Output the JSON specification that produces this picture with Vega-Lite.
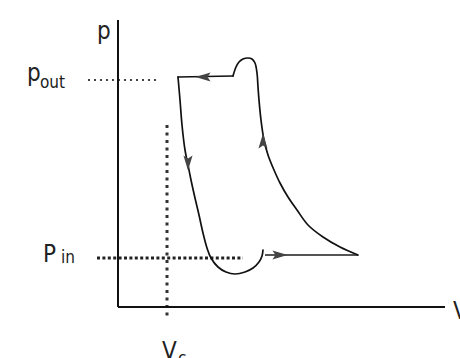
{
  "$schema": "https://vega.github.io/schema/vega-lite/v6.json",
  "width": 460,
  "height": 358,
  "autosize": {"type": "none"},
  "padding": 0,
  "background": "white",
  "config": {"view": {"stroke": null}},
  "datasets": {
    "axes": [
      {"V": 0, "p": 0, "V2": 0, "p2": 287},
      {"V": 0, "p": 0, "V2": 327, "p2": 0}
    ],
    "dottedOut": [
      {"V": -30, "p": 227, "V2": 42, "p2": 227}
    ],
    "dottedIn": [
      {"V": -21, "p": 49, "V2": 125, "p2": 49}
    ],
    "dottedVc": [
      {"V": 49, "p": 182, "V2": 49, "p2": -13}
    ],
    "suction": [
      {"V": 147, "p": 52, "V2": 240, "p2": 52}
    ],
    "curve": [
      {"seg": "a", "o": 1, "V": 240, "p": 52},
      {"seg": "a", "o": 2, "V": 222, "p": 60},
      {"seg": "a", "o": 3, "V": 205, "p": 70},
      {"seg": "a", "o": 4, "V": 190, "p": 82},
      {"seg": "a", "o": 5, "V": 179, "p": 97},
      {"seg": "a", "o": 6, "V": 170, "p": 110},
      {"seg": "a", "o": 7, "V": 162, "p": 124},
      {"seg": "a", "o": 8, "V": 156, "p": 137},
      {"seg": "a", "o": 9, "V": 150, "p": 152},
      {"seg": "a", "o": 10, "V": 146, "p": 167},
      {"seg": "a", "o": 11, "V": 143, "p": 187},
      {"seg": "a", "o": 12, "V": 141, "p": 207},
      {"seg": "a", "o": 13, "V": 140, "p": 220},
      {"seg": "a", "o": 14, "V": 139, "p": 234},
      {"seg": "a", "o": 15, "V": 137, "p": 244},
      {"seg": "a", "o": 16, "V": 134, "p": 248},
      {"seg": "a", "o": 17, "V": 130, "p": 249},
      {"seg": "a", "o": 18, "V": 125, "p": 248},
      {"seg": "a", "o": 19, "V": 121, "p": 245},
      {"seg": "a", "o": 20, "V": 118, "p": 240},
      {"seg": "a", "o": 21, "V": 115, "p": 231},
      {"seg": "b", "o": 1, "V": 115, "p": 231},
      {"seg": "b", "o": 2, "V": 60, "p": 230},
      {"seg": "c", "o": 1, "V": 60, "p": 230},
      {"seg": "c", "o": 2, "V": 62, "p": 207},
      {"seg": "c", "o": 3, "V": 64, "p": 182},
      {"seg": "c", "o": 4, "V": 67, "p": 157},
      {"seg": "c", "o": 5, "V": 70, "p": 142},
      {"seg": "c", "o": 6, "V": 73, "p": 127},
      {"seg": "c", "o": 7, "V": 77, "p": 109},
      {"seg": "c", "o": 8, "V": 81, "p": 92},
      {"seg": "c", "o": 9, "V": 85, "p": 74},
      {"seg": "c", "o": 10, "V": 89, "p": 59},
      {"seg": "c", "o": 11, "V": 93, "p": 49},
      {"seg": "c", "o": 12, "V": 100, "p": 40},
      {"seg": "c", "o": 13, "V": 108, "p": 35},
      {"seg": "c", "o": 14, "V": 117, "p": 33},
      {"seg": "c", "o": 15, "V": 127, "p": 35},
      {"seg": "c", "o": 16, "V": 135, "p": 39},
      {"seg": "c", "o": 17, "V": 141, "p": 45},
      {"seg": "c", "o": 18, "V": 144, "p": 51},
      {"seg": "c", "o": 19, "V": 145, "p": 57}
    ],
    "arrows": [
      {"V": 85, "p": 230, "dir": "left"},
      {"V": 70, "p": 144, "dir": "down"},
      {"V": 145, "p": 166, "dir": "up"},
      {"V": 162, "p": 52, "dir": "right"}
    ],
    "bigText": [
      {"V": -21, "p": 268, "t": "p"},
      {"V": -91, "p": 226, "t": "p"},
      {"V": -75, "p": 45, "t": "P"},
      {"V": 44, "p": -52, "t": "V"},
      {"V": 335, "p": -12, "t": "V"}
    ],
    "subText": [
      {"V": -78, "p": 219, "t": "out"},
      {"V": -57, "p": 44, "t": "in"},
      {"V": 60, "p": -57, "t": "c"}
    ]
  },
  "encoding": {
    "x": {"field": "V", "type": "quantitative", "scale": {"domain": [-118, 342], "nice": false, "zero": false}, "axis": null},
    "y": {"field": "p", "type": "quantitative", "scale": {"domain": [-51, 307], "nice": false, "zero": false}, "axis": null}
  },
  "layer": [
    {
      "data": {"name": "dottedOut"},
      "mark": {"type": "rule", "color": "#444444", "strokeWidth": 2, "strokeDash": [2, 4]},
      "encoding": {"x2": {"field": "V2"}, "y2": {"field": "p2"}}
    },
    {
      "data": {"name": "dottedIn"},
      "mark": {"type": "rule", "color": "#222222", "strokeWidth": 3, "strokeDash": [3, 2.4]},
      "encoding": {"x2": {"field": "V2"}, "y2": {"field": "p2"}}
    },
    {
      "data": {"name": "dottedVc"},
      "mark": {"type": "rule", "color": "#333333", "strokeWidth": 3, "strokeDash": [3, 4.5]},
      "encoding": {"x2": {"field": "V2"}, "y2": {"field": "p2"}}
    },
    {
      "data": {"name": "axes"},
      "mark": {"type": "rule", "color": "#111111", "strokeWidth": 2},
      "encoding": {"x2": {"field": "V2"}, "y2": {"field": "p2"}}
    },
    {
      "data": {"name": "suction"},
      "mark": {"type": "rule", "color": "#555555", "strokeWidth": 2.2},
      "encoding": {"x2": {"field": "V2"}, "y2": {"field": "p2"}}
    },
    {
      "data": {"name": "curve"},
      "mark": {"type": "line", "color": "#111111", "strokeWidth": 1.7, "interpolate": "catmull-rom", "strokeCap": "round", "strokeJoin": "round"},
      "encoding": {
        "detail": {"field": "seg", "type": "nominal"},
        "order": {"field": "o", "type": "quantitative"}
      }
    },
    {
      "data": {"name": "arrows"},
      "mark": {"type": "point", "filled": true, "color": "#444444", "opacity": 1, "size": 230},
      "encoding": {
        "shape": {
          "field": "dir", "type": "nominal", "legend": null,
          "scale": {
            "domain": ["left", "right", "up", "down"],
            "range": ["M-1,0L1,-0.6L0.6,0L1,0.6Z", "M1,0L-1,-0.6L-0.6,0L-1,0.6Z", "M0,-1L-0.6,1L0,0.6L0.6,1Z", "M0,1L-0.6,-1L0,-0.6L0.6,-1Z"]
          }
        }
      }
    },
    {
      "data": {"name": "bigText"},
      "mark": {"type": "text", "align": "left", "baseline": "alphabetic", "font": "Liberation Sans Narrow, DejaVu Sans Condensed, Liberation Sans", "fontSize": 24, "color": "#222222"},
      "encoding": {"text": {"field": "t"}}
    },
    {
      "data": {"name": "subText"},
      "mark": {"type": "text", "align": "left", "baseline": "alphabetic", "font": "Liberation Sans Narrow, DejaVu Sans Condensed, Liberation Sans", "fontSize": 17, "color": "#222222"},
      "encoding": {"text": {"field": "t"}}
    }
  ]
}
